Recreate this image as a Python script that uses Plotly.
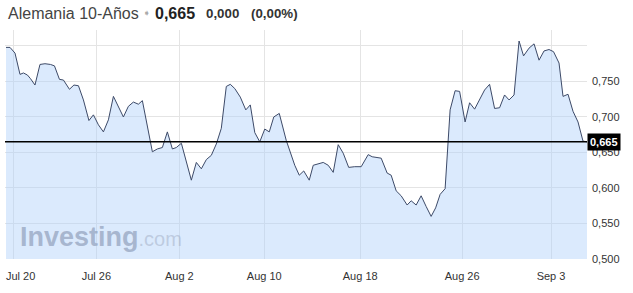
import plotly.graph_objects as go

# time index (one unit ~ one sampling period) and yield values (%)
t = [0, 0.8, 1.8, 2.8, 3.5, 4.3, 4.9, 5.8, 6.8, 7.8, 8.9, 9.7, 10.7, 11.5, 12.7, 13.6, 14.5,
     15.5, 16.6, 17.5, 18.5, 19.5, 20.5, 21.5, 23.5, 24.5, 25.5, 26.5, 27.3, 29.3, 30.3, 31.3,
     32.3, 33.3, 34.1, 35.1, 37.1, 38.1, 39.1, 40.1, 41.1, 42.1, 43.1, 44.1, 44.9, 45.8, 46.9,
     48.0, 48.9, 49.8, 50.8, 51.8, 52.7, 53.6, 54.7, 56.1, 57.8, 58.7, 59.6, 60.7, 61.5, 62.5,
     63.5, 64.5, 65.5, 66.5, 67.5, 68.6, 69.8, 71.1, 72.5, 73.3, 75.1, 76.3, 77.1, 78.1, 79.1,
     80.3, 81.1, 82.1, 83.1, 84.1, 85.1, 86.0, 86.9, 87.9, 88.9, 89.9, 90.8, 91.9, 92.8, 93.8,
     94.8, 95.8, 96.8, 97.8, 98.8, 99.8, 100.7, 101.7, 102.7, 103.6, 104.7, 105.7, 106.7, 107.7,
     108.7, 109.6, 110.7, 111.5, 112.5, 113.5, 114.5, 115.5, 116.3]
yields = [0.798, 0.798, 0.790, 0.760, 0.762, 0.759, 0.754, 0.745, 0.774, 0.775, 0.774, 0.772,
          0.753, 0.752, 0.739, 0.745, 0.744, 0.724, 0.695, 0.703, 0.689, 0.679, 0.696, 0.729,
          0.700, 0.715, 0.721, 0.718, 0.723, 0.651, 0.655, 0.657, 0.679, 0.655, 0.657, 0.663,
          0.611, 0.636, 0.627, 0.640, 0.646, 0.662, 0.684, 0.743, 0.746, 0.740, 0.728, 0.710,
          0.717, 0.678, 0.665, 0.683, 0.679, 0.700, 0.705, 0.667, 0.632, 0.618, 0.624, 0.611,
          0.632, 0.634, 0.636, 0.632, 0.622, 0.661, 0.649, 0.629, 0.630, 0.630, 0.647, 0.644,
          0.642, 0.621, 0.618, 0.596, 0.589, 0.576, 0.582, 0.576, 0.589, 0.574, 0.560, 0.572,
          0.591, 0.599, 0.710, 0.737, 0.736, 0.693, 0.720, 0.711, 0.725, 0.738, 0.746, 0.712,
          0.713, 0.731, 0.724, 0.731, 0.807, 0.786, 0.797, 0.803, 0.780, 0.793, 0.795, 0.792,
          0.776, 0.729, 0.732, 0.708, 0.693, 0.666, 0.665]

date_ticks = [1.6, 18.1, 34.7, 51.7, 70.9, 91.3, 109.1]
date_labels = ["Jul 20", "Jul 26", "Aug 2", "Aug 10", "Aug 18", "Aug 26", "Sep 3"]
y_ticks = [0.50, 0.55, 0.60, 0.65, 0.70, 0.75, 0.80]
y_labels = ["0,500", "0,550", "0,600", "0,650", "0,700", "0,750", ""]
last_value = 0.665
title_name = "Alemania 10-Años"
last_text = "0,665"
change_text = "0,000"
change_pct_text = "(0,00%)"

FONT = "Liberation Sans, Arial, sans-serif"
X_RANGE = [-0.2, 116.3]

fig = go.Figure()
fig.add_trace(go.Scatter(
    x=t, y=yields, mode="lines",
    line=dict(color="#3d4a68", width=1),
    fill="tozeroy", fillcolor="rgba(175,208,250,0.45)",
    hoverinfo="skip", showlegend=False,
))

fig.add_shape(type="line", xref="paper", yref="y", x0=0, x1=1,
              y0=last_value, y1=last_value, line=dict(color="black", width=1.5))

fig.add_annotation(xref="paper", yref="y", x=1.0, y=last_value, xanchor="left",
                   yanchor="middle", text="<b>" + last_text + "</b>", showarrow=False,
                   bgcolor="black", font=dict(color="white", size=11, family=FONT),
                   borderpad=2)

# first date label, nudged right so it stays inside the page (as in the original)
fig.add_annotation(xref="x", yref="paper", x=date_ticks[0], y=0, xanchor="center",
                   yanchor="top", xshift=7, yshift=-9, text=date_labels[0], showarrow=False,
                   font=dict(size=11, color="#333", family=FONT))

# header pieces (xshift measured from the plot's left edge)
def header(text, shift, size, color, bold=False):
    fig.add_annotation(xref="paper", yref="paper", x=0, y=1, xanchor="left", yanchor="middle",
                       xshift=shift, yshift=17, text=("<b>%s</b>" % text) if bold else text,
                       showarrow=False, font=dict(family=FONT, size=size, color=color))

header(title_name, 1, 16, "#444")
header("➧", 136, 9, "#aaa")
header(last_text, 148, 16, "#222", bold=True)
header(change_text, 199, 13.3, "#333", bold=True)
header(change_pct_text, 244, 13.3, "#333", bold=True)

# watermark
fig.add_annotation(xref="paper", yref="paper", x=0.022, y=0.02, xanchor="left", yanchor="bottom",
                   text=("<b><span style='font-size:27px;color:rgba(150,165,192,0.75)'>Investing</span></b>"
                         "<span style='font-size:20px;color:rgba(160,172,195,0.5)'>.com</span>"),
                   showarrow=False, font=dict(family=FONT))

fig.update_layout(
    width=633, height=293,
    margin=dict(l=5, r=46, t=30, b=34),
    paper_bgcolor="white", plot_bgcolor="white",
    separators=",.",
    font=dict(family=FONT, size=11, color="#333"),
    xaxis=dict(range=X_RANGE, tickmode="array", tickvals=date_ticks,
               ticktext=[""] + date_labels[1:], showgrid=True, gridcolor="#e4e4e4", gridwidth=1,
               zeroline=False, showline=False, ticks="", ticklabelstandoff=9,
               tickfont=dict(size=11, color="#333"), fixedrange=True),
    yaxis=dict(range=[0.5, 0.8225], side="right", tickmode="array", tickvals=y_ticks,
               ticktext=y_labels, showgrid=True, gridcolor="#e4e4e4", gridwidth=1,
               zeroline=False, showline=False, ticks="", ticklabelstandoff=4,
               tickfont=dict(size=11, color="#333"), fixedrange=True),
)

fig.write_html("out.html")
